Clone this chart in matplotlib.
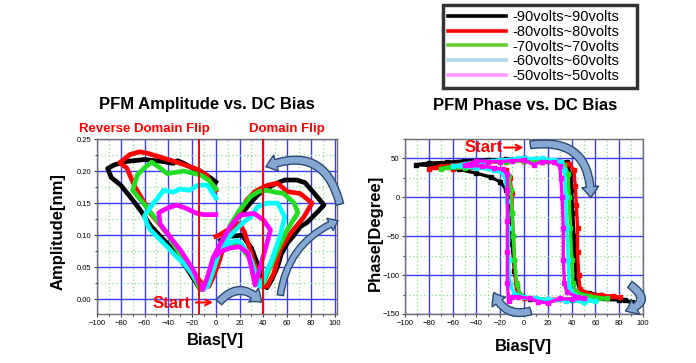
import matplotlib
matplotlib.use("Agg")
import matplotlib.pyplot as plt
from matplotlib.patches import FancyArrowPatch, ArrowStyle
from matplotlib.lines import Line2D
from matplotlib.ticker import MultipleLocator

plt.rcParams['font.family'] = ['Liberation Sans', 'DejaVu Sans']

# ---------------- data ----------------
series_labels = ["-90volts~90volts", "-80volts~80volts", "-70volts~70volts",
                 "-60volts~60volts", "-50volts~50volts"]
plot_colors = ["#000000", "#ff0000", "#22dd22", "#00ffff", "#ff00ff"]
legend_colors = ["#000000", "#ff0000", "#66cc33", "#add8e6", "#ff99ff"]

# Amplitude (nm) vs bias (V)
amp_90_x = [0, -5, -13, -20, -27, -32, -36, -45, -60, -75, -85, -91, -88, -80, -70, -62, -55, -45, -35, -25, -18, -13,
            -8, -3, 5, 15, 22, 29, 35, 40, 50, 58, 68, 75, 83, 91, 85, 77, 71, 65, 60, 55, 52, 47, 43, 40, 36, 30, 22, 12, 4]
amp_90_y = [0.183, 0.19, 0.20, 0.205, 0.212, 0.216, 0.212, 0.215, 0.218, 0.215, 0.21, 0.204, 0.19, 0.178, 0.155, 0.135, 0.115, 0.095, 0.075, 0.05, 0.03, 0.015,
            0.02, 0.045, 0.09, 0.12, 0.134, 0.15, 0.162, 0.17, 0.18, 0.186, 0.186, 0.182, 0.165, 0.147, 0.135, 0.12, 0.113, 0.098, 0.087, 0.07, 0.051, 0.03, 0.018, 0.025, 0.05, 0.08, 0.1, 0.098, 0.092]

amp_80_x = [0, -8, -16, -30, -47, -58, -64, -72, -81, -75, -68, -60, -55, -41, -27, -16, -10, -6, -2, 3, 9, 18, 26, 33, 40, 44, 52, 60, 71, 81,
            74, 63, 54, 49, 43, 39, 35, 30, 24, 20, 14, 8, 3, 0]
amp_80_y = [0.17, 0.194, 0.203, 0.212, 0.222, 0.228, 0.23, 0.226, 0.213, 0.205, 0.175, 0.15, 0.134, 0.103, 0.067, 0.035, 0.02, 0.02, 0.035, 0.06, 0.098, 0.129, 0.155, 0.168, 0.175, 0.178, 0.181, 0.168, 0.165, 0.15,
            0.128, 0.103, 0.077, 0.041, 0.02, 0.02, 0.04, 0.07, 0.105, 0.118, 0.112, 0.106, 0.1, 0.098]

amp_70_x = [0, -6, -13, -20, -27, -34, -41, -47, -54, -60, -66, -70, -61, -50, -40, -30, -20, -13, -7, 0, 5, 12, 20, 29, 36, 43, 50, 57, 66, 69,
            60, 52, 46, 40, 36, 30, 22, 14, 8, 3]
amp_70_y = [0.172, 0.186, 0.194, 0.197, 0.2, 0.198, 0.196, 0.205, 0.214, 0.205, 0.194, 0.17, 0.15, 0.124, 0.1, 0.07, 0.04, 0.015, 0.03, 0.06, 0.08, 0.115, 0.139, 0.16, 0.168, 0.17, 0.167, 0.165, 0.15, 0.135,
            0.108, 0.077, 0.051, 0.025, 0.03, 0.06, 0.08, 0.088, 0.085, 0.075]

amp_60_x = [0, -7, -15, -22, -30, -36, -44, -50, -55, -60, -58, -55, -48, -41, -34, -27, -20, -16, -11, -7, -3, 2, 8, 15, 22, 29, 35, 43, 52, 58,
            54, 47, 40, 37, 33, 28, 22, 18, 12, 6, 2]
amp_60_y = [0.158, 0.178, 0.178, 0.17, 0.172, 0.167, 0.17, 0.155, 0.144, 0.13, 0.118, 0.108, 0.095, 0.082, 0.068, 0.056, 0.04, 0.03, 0.015, 0.02, 0.04, 0.07, 0.09, 0.105, 0.118, 0.128, 0.144, 0.15, 0.15, 0.128,
            0.098, 0.061, 0.03, 0.02, 0.04, 0.07, 0.085, 0.092, 0.088, 0.082, 0.07]

amp_50_x = [0, -10, -16, -25, -33, -41, -48, -47, -41, -30, -19, -13, -11, -7, -2, 4, 12, 20, 32, 40, 46, 43, 39, 35, 33, 30, 27, 20, 12, 5, 0]
amp_50_y = [0.132, 0.132, 0.134, 0.142, 0.147, 0.142, 0.135, 0.118, 0.103, 0.077, 0.046, 0.02, 0.015, 0.035, 0.066, 0.087, 0.113, 0.131, 0.134, 0.124, 0.108, 0.087, 0.061, 0.035, 0.022, 0.05, 0.072, 0.082, 0.08, 0.075, 0.068]

# Phase (degree) vs bias (V)
ph_90_x = [0, 10, 20, 30, 36, 39, 40, 41, 42, 43, 44, 47, 55, 65, 75, 85, 91, 80, 60, 40, 20, 5, -3, -6, -8, -10, -11, -12, -15, -20, -28, -40, -55, -70, -91, -80, -65, -50, -30, -15, 0]
ph_90_y = [50, 49, 47, 46, 45, 30, 10, -20, -50, -80, -105, -120, -123, -126, -128, -132, -135, -132, -131, -132, -133, -131, -125, -115, -95, -60, -30, -5, 10, 20, 26, 31, 36, 40, 42, 44, 45, 47, 48, 49, 50]

ph_80_x = [0, 15, 30, 38, 42, 43, 44, 45, 45, 46, 47, 55, 65, 75, 81, 70, 50, 30, 10, 0, -5, -7, -8, -9, -10, -10, -12, -15, -25, -40, -60, -80, -70, -50, -30, -15, 0]
ph_80_y = [47, 46, 45, 43, 35, 15, -10, -40, -70, -100, -118, -124, -126, -127, -128, -129, -130, -131, -131, -130, -126, -110, -80, -50, -20, 5, 25, 35, 38, 38, 37, 37, 40, 43, 45, 46, 47]

ph_70_x = [0, 15, 28, 34, 37, 38, 39, 40, 41, 44, 55, 70, 60, 50, 35, 20, 5, -3, -6, -8, -9, -10, -11, -13, -18, -30, -50, -70, -60, -45, -30, -15, 0]
ph_70_y = [47, 46, 45, 42, 30, 0, -40, -80, -110, -122, -127, -130, -132, -135, -131, -132, -130, -126, -112, -80, -50, -20, 10, 28, 35, 38, 38, 37, 40, 44, 46, 46, 47]

ph_60_x = [0, 15, 25, 31, 34, 35, 36, 37, 38, 42, 50, 60, 50, 35, 20, 10, 0, -8, -12, -13, -13, -14, -15, -17, -25, -40, -60, -50, -35, -20, -5, 0]
ph_60_y = [50, 50, 48, 45, 35, 0, -40, -80, -115, -125, -130, -133, -134, -133, -131, -130, -128, -124, -112, -80, -40, -5, 20, 30, 35, 38, 40, 43, 46, 48, 50, 50]

ph_50_x = [0, 8, 15, 25, 30, 31, 32, 33, 33, 34, 36, 45, 50, 40, 30, 20, 12, 5, -5, -10, -13, -14, -14, -14, -14, -14, -18, -25, -35, -45, -50, -40, -30, -20, -10, 0]
ph_50_y = [48, 42, 46, 45, 40, 25, 0, -40, -80, -110, -122, -128, -130, -131, -130, -136, -134, -130, -128, -128, -133, -110, -70, -30, 10, 30, 36, 38, 40, 41, 41, 47, 46, 46, 47, 48]

amp_x = [amp_90_x, amp_80_x, amp_70_x, amp_60_x, amp_50_x]
amp_y = [amp_90_y, amp_80_y, amp_70_y, amp_60_y, amp_50_y]
ph_x = [ph_90_x, ph_80_x, ph_70_x, ph_60_x, ph_50_x]
ph_y = [ph_90_y, ph_80_y, ph_70_y, ph_60_y, ph_50_y]

x_ticks = [-100, -80, -60, -40, -20, 0, 20, 40, 60, 80, 100]
amp_ticks = [0.00, 0.05, 0.10, 0.15, 0.20, 0.25]
ph_ticks = [-150, -100, -50, 0, 50]
flip_positions = [-14, 40]

# ---------------- figure ----------------
fig = plt.figure(figsize=(6.96, 3.63), dpi=100)
ax1 = fig.add_axes([97 / 696, 1 - 314 / 363, 240 / 696, 175 / 363])
ax2 = fig.add_axes([405 / 696, 1 - 314 / 363, 238 / 696, 175 / 363])

arrow_fc = "#86a8d2"
arrow_ec = "#2b4a73"


def style_axes(ax):
    ax.xaxis.set_minor_locator(MultipleLocator(10))
    ax.grid(which='major', color='#3c3cff', lw=1.0, ls='-')
    ax.grid(which='minor', color='#8fdc8f', lw=0.9, ls=(0, (1, 2)))
    ax.set_axisbelow(True)
    for s in ax.spines.values():
        s.set_color('#707070')
        s.set_linewidth(1.0)
    ax.tick_params(which='both', labelsize=5.5, length=2.5, width=0.8, color='#404040', pad=1.5)
    ax.tick_params(which='minor', length=1.5)


def curved_arrow(ax, a, b, rad, scale=11):
    p = FancyArrowPatch(a, b, connectionstyle=f"arc3,rad={rad}",
                        arrowstyle=ArrowStyle.Simple(head_length=0.7, head_width=1.1, tail_width=0.5),
                        mutation_scale=scale, fc=arrow_fc, ec=arrow_ec, lw=1.0,
                        transform=ax.transData, clip_on=False, zorder=6)
    ax.add_patch(p)


# ---- amplitude ----
for xs, ys, c in zip(amp_x, amp_y, plot_colors):
    ax1.plot(xs, ys, color=c, lw=3.4, solid_joinstyle='round', zorder=3)
ax1.set_xlim(-100, 102)
ax1.set_ylim(-0.023, 0.25)
ax1.set_xticks(x_ticks)
ax1.set_yticks(amp_ticks)
ax1.set_yticklabels([f"{v:.2f}" for v in amp_ticks])
ax1.yaxis.set_minor_locator(MultipleLocator(0.025))
style_axes(ax1)
for xv in flip_positions:
    ax1.axvline(xv, color='#ff0000', lw=1.4, zorder=4)
ax1.text(-60, 0.266, "Reverse Domain Flip", color='#ff0000', fontsize=9.5, fontweight='bold', ha='center', va='center')
ax1.text(60, 0.266, "Domain Flip", color='#ff0000', fontsize=9.5, fontweight='bold', ha='center', va='center')
ax1.annotate("", xy=(0, -0.005), xytext=(-19, -0.005),
             arrowprops=dict(arrowstyle='->', color='#ff0000', lw=1.5), zorder=6)
ax1.text(-37, -0.006, "Start", color='#ff0000', fontsize=12, fontweight='bold', ha='center', va='center', zorder=6)
curved_arrow(ax1, (105, 0.144), (40, 0.205), 0.6)
curved_arrow(ax1, (54, 0.002), (105, 0.124), -0.3, scale=9)
curved_arrow(ax1, (1, -0.008), (40, -0.008), -0.6)

# ---- phase ----
for xs, ys, c in zip(ph_x, ph_y, plot_colors):
    ax2.plot(xs, ys, color=c, lw=2.4, marker='s', ms=3.2, mec=c, mfc=c, zorder=3)
ax2.set_xlim(-100, 100)
ax2.set_ylim(-150, 75)
ax2.set_xticks(x_ticks)
ax2.set_yticks(ph_ticks)
ax2.yaxis.set_minor_locator(MultipleLocator(25))
style_axes(ax2)
ax2.annotate("", xy=(2, 64), xytext=(-19, 64),
             arrowprops=dict(arrowstyle='->', color='#ff0000', lw=1.5), zorder=6)
ax2.text(-34, 64, "Start", color='#ff0000', fontsize=12, fontweight='bold', ha='center', va='center', zorder=6)
curved_arrow(ax2, (3, 67), (56, -4), -0.6)
curved_arrow(ax2, (87, -110), (83, -147), -1.1)
curved_arrow(ax2, (8, -145), (-26, -119), -0.5)

# ---- titles & labels ----
fig.text(207 / 696, 1 - 105 / 363, "PFM Amplitude vs. DC Bias", fontsize=12, fontweight='bold', ha='center', va='center')
fig.text(525 / 696, 1 - 105 / 363, "PFM Phase vs. DC Bias", fontsize=12, fontweight='bold', ha='center', va='center')
fig.text(58 / 696, 1 - 232 / 363, "Amplitude[nm]", fontsize=12, fontweight='bold', rotation=90, ha='center', va='center')
fig.text(375 / 696, 1 - 233 / 363, "Phase[Degree]", fontsize=12, fontweight='bold', rotation=90, ha='center', va='center')
fig.text(215 / 696, 1 - 340 / 363, "Bias[V]", fontsize=12, fontweight='bold', ha='center', va='center')
fig.text(523 / 696, 1 - 347 / 363, "Bias[V]", fontsize=12, fontweight='bold', ha='center', va='center')

# ---- legend ----
handles = [Line2D([], [], color=c, lw=2.6) for c in legend_colors]
leg = fig.legend(handles, series_labels, loc='upper left',
                 bbox_to_anchor=(443 / 696, 1 - 88 / 363, 194 / 696, 83 / 363), mode='expand',
                 fontsize=10.5, frameon=True, fancybox=False, labelspacing=0.05,
                 handlelength=4.0, handletextpad=0.4, borderpad=0.35, borderaxespad=0)
leg.get_frame().set_edgecolor('black')
leg.get_frame().set_linewidth(2.5)

fig.savefig("out.png", dpi=100)
